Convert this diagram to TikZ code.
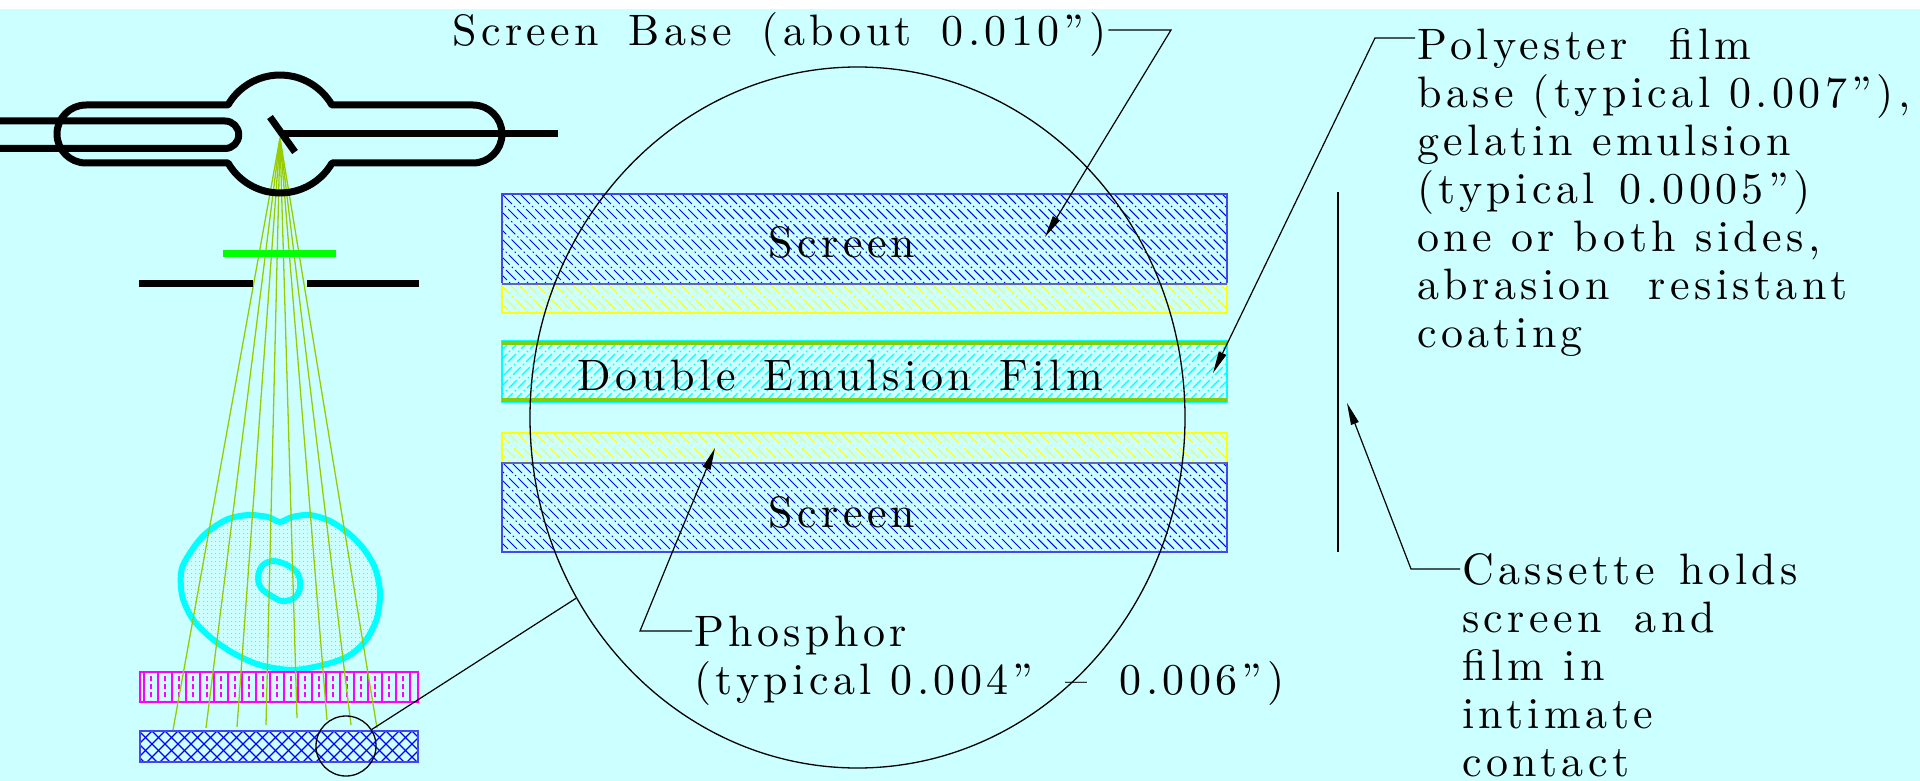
\documentclass[tikz,border=0pt]{standalone}
\usepackage{fontspec}
\usetikzlibrary{arrows.meta,patterns.meta,shapes.geometric}

\newfontfamily\cadfamily{lmroman10-regular.otf}[LetterSpace=10]

\definecolor{bgcyan}{RGB}{204,255,255}
\definecolor{beamgreen}{RGB}{153,204,0}
\definecolor{filtergreen}{RGB}{0,255,0}
\definecolor{bodycyan}{RGB}{0,255,255}
\definecolor{gridmag}{RGB}{255,0,255}
\definecolor{screenblue}{RGB}{0,0,255}
\definecolor{edgeblue}{RGB}{70,70,240}
\definecolor{seamblue}{RGB}{100,100,180}
\definecolor{phosyellow}{RGB}{255,255,0}
\definecolor{filmgreen}{RGB}{136,204,0}

% lettering: spaced serif, word spaces that may stretch
\newcommand\cadfont{\cadfamily\fontsize{44}{48}\selectfont
  \spaceskip=\fontdimen2\font plus 80pt minus 2pt\relax}
% a line set to its natural width plus #1
\newlength\fitlen
\newcommand\fitline[2]{\settowidth\fitlen{#2}\addtolength\fitlen{#1}\makebox[\fitlen][s]{#2}}

% diagonal hatching "\" inside a rectangle x1,y1,x2,y2
\newcommand\backhatch[5]{%
  \begin{scope}
    \clip (#1,#2) rectangle (#3,#4);
    \pgfmathtruncatemacro\hfrom{#1-#4}
    \pgfmathtruncatemacro\hto{#3-#2}
    \pgfmathtruncatemacro\hnext{\hfrom+9}
    \foreach \hc in {\hfrom,\hnext,...,\hto}
      \draw[#5] (\hc+#2,#2) -- (\hc+#4,#4);
  \end{scope}}
% diagonal hatching "/" inside a rectangle x1,y1,x2,y2
\newcommand\forehatch[5]{%
  \begin{scope}
    \clip (#1,#2) rectangle (#3,#4);
    \pgfmathtruncatemacro\hfrom{#1+#2}
    \pgfmathtruncatemacro\hto{#3+#4}
    \pgfmathtruncatemacro\hnext{\hfrom+9}
    \foreach \hc in {\hfrom,\hnext,...,\hto}
      \draw[#5] (\hc-#2,#2) -- (\hc-#4,#4);
  \end{scope}}

\tikzset{
  cadtext/.style={inner sep=2pt, font=\cadfont, text=black},
  leader/.style={draw=black, line width=1.2pt},
  pointer/.style={leader, -{Triangle[length=22pt,width=8pt]}},
  tubeline/.style={draw=black, line width=7pt, line join=round},
  barline/.style={draw=black, line width=7pt},
  beam/.style={draw=beamgreen, line width=1.3pt},
  screenhatch/.style={screenblue, line width=1.05pt, dash pattern=on 14pt off 3pt on 1.5pt off 3pt},
  phoshatch/.style={phosyellow, line width=1pt, dash pattern=on 14pt off 3pt on 1.5pt off 3pt},
  filmhatch/.style={bodycyan, line width=1.1pt, dash pattern=on 11pt off 3pt on 1.5pt off 3pt},
}

\begin{document}
\begin{tikzpicture}[x=1pt,y=-1pt]
\useasboundingbox (0,0) rectangle (1920,781);
\fill[bgcyan] (0,0) rectangle (1920,781);
\fill[white] (0,0) rectangle (1920,9);

% ---------- patient body ----------
\draw[bodycyan, line width=6pt, pattern={Dots[distance=4pt,radius=0.6pt]}, pattern color=bodycyan]
  plot[smooth cycle, tension=0.5] coordinates {
  (197,543) (210,530) (228,519) (248,515) (268,517) (280,522) (292,517) (310,515)
  (330,521) (348,533) (363,548) (375,568) (380,592) (377,618) (366,640) (350,655)
  (327,664) (293,670) (260,665) (233,653) (210,637) (192,618) (182,595) (182,568)};
\draw[bodycyan, line width=6pt]
  plot[smooth cycle, tension=0.6] coordinates {
  (258,578) (262,566) (273,561) (287,565) (298,574) (300,588) (294,598) (282,601) (270,595) (261,588)};

% ---------- grid ----------
\draw[gridmag, line width=1.5pt] (140,672) rectangle (418,702);
\foreach \k in {0,...,19}
  \draw[gridmag, line width=1.3pt] ({144+14*\k},672) -- ({144+14*\k},702);
\foreach \k in {0,...,18}
  \draw[gridmag, line width=1.3pt, dash pattern=on 5pt off 3pt] ({151+14*\k},676) -- ({151+14*\k},700);

% ---------- cassette bar ----------
\begin{scope}
  \clip (140,731) rectangle (418,762);
  \foreach \hc in {100,113,...,460} {
    \draw[screenblue, line width=1.3pt] (\hc,731) -- (\hc+31,762);
    \draw[screenblue, line width=1.3pt] (\hc,731) -- (\hc-31,762);
  }
\end{scope}
\draw[edgeblue, line width=2pt] (140,731) rectangle (418,762);

% ---------- x-ray beams ----------
\coordinate (focal) at (280,138);
\foreach \ex/\ey in {173/730, 206/728, 237/727, 266/725, 297/718, 327/720, 351/725, 377/728}
  \draw[beam] (focal) -- (\ex,\ey);

% ---------- filter and collimator ----------
\draw[filtergreen, line width=7pt] (223,253) -- (336,253);
\draw[barline] (139,283) -- (253,283);
\draw[barline] (307,283) -- (419,283);

% ---------- x-ray tube ----------
\draw[tubeline] (86,105) -- (228,105)
  arc[start angle=210, end angle=330, radius=60] -- (473,105)
  arc[start angle=270, end angle=450, radius=29] -- (332,163)
  arc[start angle=30, end angle=150, radius=60] -- (86,163)
  arc[start angle=90, end angle=270, radius=29] -- cycle;
\draw[tubeline] (0,121) -- (225,121) arc[start angle=270, end angle=450, radius=13.75] -- (0,148.5);
\draw[tubeline] (284,134) -- (558,134);
\draw[tubeline] (270,117) -- (295,152);

% ---------- magnified layers ----------
% top screen
\backhatch{502}{194}{1227}{284}{screenhatch}
\draw[edgeblue, line width=1.5pt] (502,194) rectangle (1227,284);
% top phosphor
\backhatch{502}{284}{1227}{313}{phoshatch}
\draw[phosyellow, line width=1.5pt] (502,284) rectangle (1227,313);
\draw[seamblue, line width=1.5pt] (502,284) -- (1227,284);
% film
\forehatch{502}{341}{1227}{402}{filmhatch}
\draw[bodycyan, line width=1.5pt] (502,341) rectangle (1227,402);
\draw[filmgreen, line width=4.5pt] (502,343) -- (1227,343);
\draw[filmgreen, line width=4.5pt] (502,400) -- (1227,400);
% bottom phosphor
\backhatch{502}{433}{1227}{463}{phoshatch}
\draw[phosyellow, line width=1.5pt] (502,433) rectangle (1227,463);
% bottom screen
\backhatch{502}{463}{1227}{552}{screenhatch}
\draw[edgeblue, line width=1.5pt] (502,463) rectangle (1227,552);
\draw[seamblue, line width=1.5pt] (502,463) -- (1227,463);

\node[cadtext, anchor=base] (topscreen) at (842,257) {Screen};
\node[cadtext, anchor=base] (film) at (840,390) {\fitline{17pt}{Double Emulsion Film}};
\node[cadtext, anchor=base] (botscreen) at (842,527) {Screen};

% ---------- magnifier ----------
\node[draw=black, line width=1.3pt, ellipse, minimum width=655pt, minimum height=701pt, inner sep=0pt] (zoomview) at (857.5,417.5) {};
\node[draw=black, line width=1.3pt, circle, minimum size=60pt, inner sep=0pt] (zoomspot) at (346,746) {};
\draw[leader] (zoomspot) -- (zoomview);

% ---------- cassette wall ----------
\coordinate (walltop) at (1338,192);
\coordinate (wallbot) at (1338,552);
\draw[leader] (walltop) -- (wallbot);

% ---------- labels ----------
\node[cadtext, anchor=base west] (sbase) at (450,46) {\fitline{32pt}{Screen Base (about 0.010”)}};
\node[cadtext, anchor=base west] (poly) at (1415,60) {\begin{tabular}[t]{@{}l@{}}
  \fitline{22pt}{Polyester film}\\
  base (typical 0.007”),\\
  gelatin emulsion\\
  \fitline{6pt}{(typical 0.0005”)}\\
  one or both sides,\\
  \fitline{20pt}{abrasion resistant}\\
  coating\end{tabular}};
\node[cadtext, anchor=base west] (phos) at (692,646) {\begin{tabular}[t]{@{}l@{}}Phosphor\\
  (typical 0.004”\hspace{32pt}–\hspace{32pt}0.006”)\end{tabular}};
\node[cadtext, anchor=base west] (cassette) at (1460,584) {\begin{tabular}[t]{@{}l@{}}
  \fitline{6pt}{Cassette holds}\\
  \fitline{14pt}{screen and}\\
  film in\\
  intimate\\
  contact\end{tabular}};

\coordinate (sbaseknee) at (1171,30);
\coordinate (sbasetip) at (1045,237);
\coordinate (polyknee) at (1375,38);
\coordinate (polytip) at (1213,373);
\coordinate (phosknee) at (640,631);
\coordinate (phostip) at (715,448);
\coordinate (cassetteknee) at (1411,569);
\coordinate (cassettetip) at (1347,403);

\draw[pointer] (sbase.east |- sbaseknee) -- (sbaseknee) -- (sbasetip);
\draw[pointer] (poly.west |- polyknee) -- (polyknee) -- (polytip);
\draw[pointer] (phos.west |- phosknee) -- (phosknee) -- (phostip);
\draw[pointer] (cassette.west |- cassetteknee) -- (cassetteknee) -- (cassettetip);
\end{tikzpicture}
\end{document}
